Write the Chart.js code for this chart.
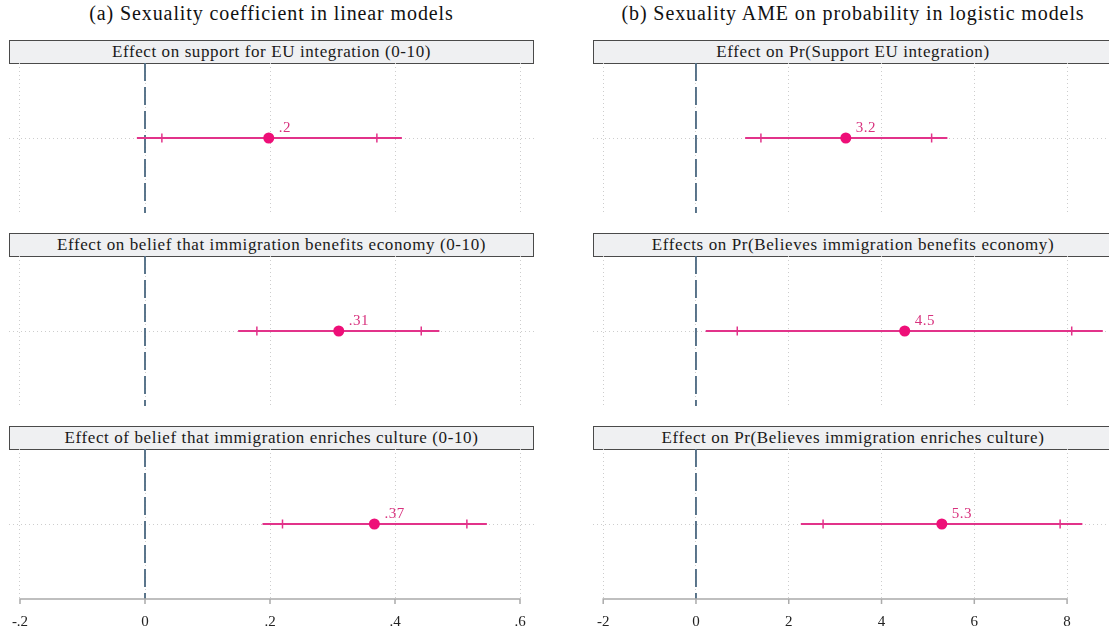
<!DOCTYPE html>
<html>
<head>
<meta charset="utf-8">
<script src="https://cdn.jsdelivr.net/npm/chart.js@4.4.1/dist/chart.umd.min.js"></script>
<style>
  html, body { margin: 0; padding: 0; background: #fff; overflow: hidden; }
  body { width: 1109px; height: 629px; position: relative; font-family: 'Liberation Serif', serif; }
  .column { position: absolute; top: 0; height: 629px; }
  .col-title { position: absolute; top: 2px; left: 0; width: 100%; text-align: center;
               font-size: 20px; letter-spacing: 0.9px; color: #111; white-space: nowrap; }
  .strip { position: absolute; left: 0; width: 100%; box-sizing: border-box; height: 24px;
           border: 1px solid #4a4a4a; background: #eff0f2; text-align: center;
           font-size: 17px; letter-spacing: 0.6px; line-height: 22px; color: #1a1a1a; white-space: nowrap; }
  canvas { position: absolute; left: 0; }
</style>
</head>
<body>
<div class="column" id="colLinear" style="left:9px; width:525px;"></div>
<div class="column" id="colLogit" style="left:593px; width:520px;"></div>

<script>
// ---- data ----
const columnTitles = ['(a) Sexuality coefficient in linear models',
                      '(b) Sexuality AME on probability in logistic models'];

const linearStrips = ['Effect on support for EU integration (0-10)',
                      'Effect on belief that immigration benefits economy (0-10)',
                      'Effect of belief that immigration enriches culture (0-10)'];
const linearEst    = [0.198, 0.310, 0.367];
const linearLo95   = [-0.013, 0.149, 0.188];
const linearHi95   = [0.411, 0.471, 0.547];
const linearLo90   = [0.027, 0.179, 0.220];
const linearHi90   = [0.371, 0.442, 0.515];
const linearLabels = ['.2', '.31', '.37'];
const linearTicks  = [-0.2, 0, 0.2, 0.4, 0.6];
const linearTickLabels = ['-.2', '0', '.2', '.4', '.6'];

const logitStrips = ['Effect on Pr(Support EU integration)',
                     'Effects on Pr(Believes immigration benefits economy)',
                     'Effect on Pr(Believes immigration enriches culture)'];
const logitEst    = [3.23, 4.50, 5.30];
const logitLo95   = [1.06, 0.21, 2.26];
const logitHi95   = [5.42, 8.77, 8.33];
const logitLo90   = [1.40, 0.89, 2.74];
const logitHi90   = [5.08, 8.10, 7.85];
const logitLabels = ['3.2', '4.5', '5.3'];
const logitTicks  = [-2, 0, 2, 4, 6, 8];
const logitTickLabels = ['-2', '0', '2', '4', '6', '8'];

// ---- styling ----
const markerPink = '#ee0f78';
const linePink = '#e2338a';
const labelPink = '#d8327e';
const zeroColor = '#4b6880';
const gridColor = '#cdcdcd';
const axisColor = '#ababab';
const serif = "'Liberation Serif', serif";

const valueLabelPlugin = {
    id: 'valueLabel',
    afterDatasetsDraw(chart, args, opts) {
        const pt = chart.getDatasetMeta(0).data[0];
        const ctx = chart.ctx;
        ctx.save();
        ctx.fillStyle = labelPink;
        ctx.font = '15px ' + serif;
        ctx.letterSpacing = '0.5px';
        ctx.textAlign = 'left';
        ctx.textBaseline = 'middle';
        ctx.fillText(opts.text, pt.x + 10, pt.y - 10);
        ctx.restore();
    }
};

// axis line + short tick marks, spanning first..last tick only (Stata look)
const axisLinePlugin = {
    id: 'axisLine',
    afterDraw(chart, args, opts) {
        if (!opts.show) return;
        const sx = chart.scales.x;
        const px = sx.ticks.map(t => sx.getPixelForValue(t.value));
        const ctx = chart.ctx;
        ctx.save();
        ctx.strokeStyle = axisColor;
        ctx.lineWidth = 1.5;
        ctx.beginPath();
        ctx.moveTo(px[0] - 0.75, sx.top);
        ctx.lineTo(px[px.length - 1] + 0.75, sx.top);
        px.forEach(x => {
            ctx.moveTo(x, sx.top);
            ctx.lineTo(x, sx.top + 5);
        });
        ctx.stroke();
        ctx.restore();
    }
};

function drawPanel(parent, top, height, p, showAxis) {
    const canvas = document.createElement('canvas');
    canvas.width = parent.offsetWidth;
    canvas.height = height;
    canvas.style.top = top + 'px';
    parent.appendChild(canvas);

    new Chart(canvas, {
        type: 'scatter',
        data: {
            datasets: [
                {   // point estimate
                    data: [{ x: p.est, y: 0 }],
                    pointRadius: 5.5,
                    pointBackgroundColor: markerPink,
                    pointBorderWidth: 0
                },
                {   // inner interval ticks
                    data: [{ x: p.lo90, y: 0 }, { x: p.hi90, y: 0 }],
                    pointStyle: 'line',
                    pointRotation: 90,
                    pointRadius: 4.5,
                    pointBorderColor: linePink,
                    pointBorderWidth: 1.5
                },
                {   // 95% interval
                    data: [{ x: p.lo95, y: 0 }, { x: p.hi95, y: 0 }],
                    showLine: true,
                    pointRadius: 0,
                    borderColor: linePink,
                    borderWidth: 2
                },
                {   // reference line at zero
                    data: [{ x: 0, y: 1 }, { x: 0, y: -1 }],
                    showLine: true,
                    pointRadius: 0,
                    borderColor: zeroColor,
                    borderWidth: 1.8,
                    borderDash: [18, 6]
                }
            ]
        },
        options: {
            responsive: false,
            animation: false,
            events: [],
            layout: { padding: 0, autoPadding: false },
            plugins: {
                legend: { display: false },
                tooltip: { enabled: false },
                valueLabel: { text: p.label },
                axisLine: { show: showAxis }
            },
            scales: {
                x: {
                    type: 'linear',
                    min: p.xMin,
                    max: p.xMax,
                    afterBuildTicks: s => { s.ticks = p.ticks.map(v => ({ value: v })); },
                    afterFit: s => { s.height = showAxis ? 30 : 0; },
                    grid: {
                        color: gridColor,
                        lineWidth: 1,
                        drawTicks: showAxis,
                        tickLength: 14,
                        tickColor: 'rgba(0,0,0,0)'
                    },
                    border: { display: false, dash: [1, 3] },
                    ticks: {
                        display: showAxis,
                        padding: 0,
                        color: '#222',
                        font: { family: serif, size: 15 },
                        maxRotation: 0,
                        autoSkip: false,
                        callback: (v, i) => p.tickLabels[i]
                    }
                },
                y: {
                    type: 'linear',
                    min: -1,
                    max: 1,
                    afterBuildTicks: s => { s.ticks = [{ value: 0 }]; },
                    afterFit: s => { s.width = 0; },
                    grid: { color: gridColor, lineWidth: 1, drawTicks: false },
                    border: { display: false, dash: [1, 3] },
                    ticks: { display: false }
                }
            }
        },
        plugins: [valueLabelPlugin, axisLinePlugin]
    });
}

function buildColumn(id, title, strips, est, lo95, hi95, lo90, hi90, labels, ticks, tickLabels, xMin, xMax) {
    const col = document.getElementById(id);
    const t = document.createElement('div');
    t.className = 'col-title';
    t.textContent = title;
    col.appendChild(t);

    strips.forEach((s, i) => {
        const stripTop = 40 + i * 193;
        const strip = document.createElement('div');
        strip.className = 'strip';
        strip.style.top = stripTop + 'px';
        strip.textContent = s;
        col.appendChild(strip);

        const last = i === strips.length - 1;
        drawPanel(col, stripTop + 23, last ? 180 : 150, {
            est: est[i], lo95: lo95[i], hi95: hi95[i], lo90: lo90[i], hi90: hi90[i],
            label: labels[i], ticks: ticks, tickLabels: tickLabels, xMin: xMin, xMax: xMax
        }, last);
    });
}

buildColumn('colLinear', columnTitles[0], linearStrips, linearEst, linearLo95, linearHi95,
            linearLo90, linearHi90, linearLabels, linearTicks, linearTickLabels, -0.2176, 0.6224);
buildColumn('colLogit', columnTitles[1], logitStrips, logitEst, logitLo95, logitHi95,
            logitLo90, logitHi90, logitLabels, logitTicks, logitTickLabels, -2.22, 8.99);
</script>
</body>
</html>
